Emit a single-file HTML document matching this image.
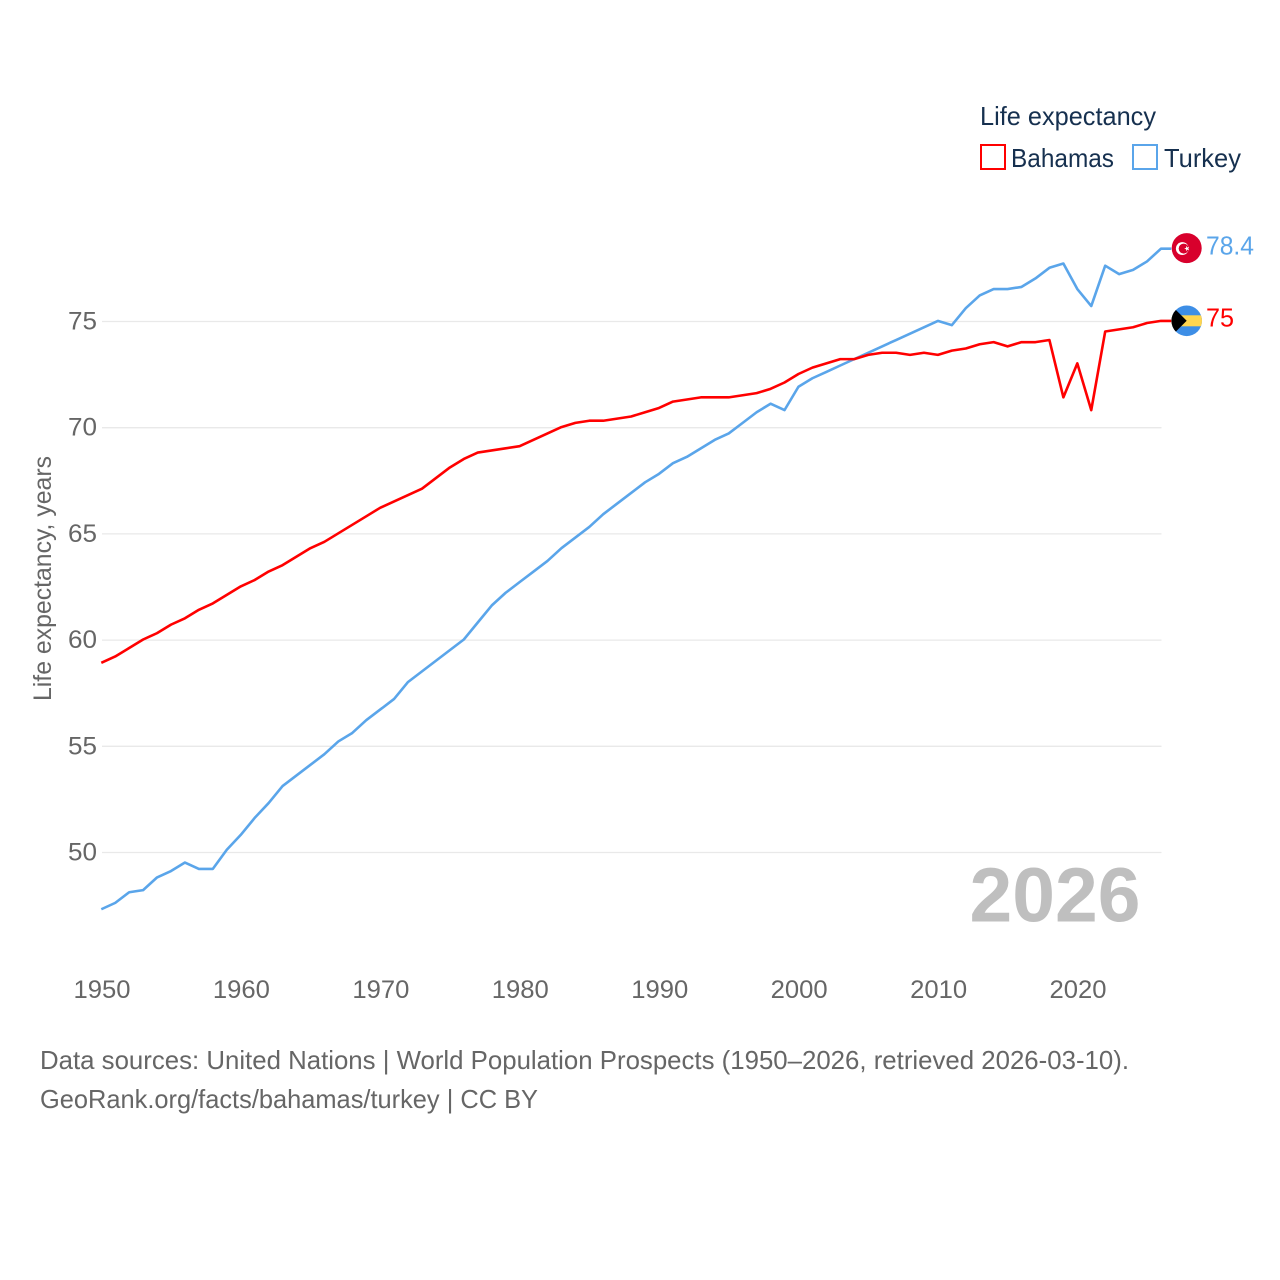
<!DOCTYPE html>
<html lang="en">
<head>
<meta charset="utf-8">
<title>Life expectancy: Bahamas vs Turkey</title>
<style>
html,body{margin:0;padding:0;background:#fff;}
svg{display:block;}
text{font-family:"Liberation Sans",sans-serif;}
</style>
</head>
<body>
<svg id="chart" width="1280" height="1280" viewBox="0 0 1280 1280" xmlns="http://www.w3.org/2000/svg">
  <defs>
    <clipPath id="flag-clip"><circle cx="0" cy="0" r="15.3"/></clipPath>
  </defs>
  <rect x="0" y="0" width="1280" height="1280" fill="#fff"/>
  <g id="grid"></g>
  <g id="yticks"></g>
  <g id="xticks"></g>
  <text transform="translate(51,701) rotate(-90)" font-size="25" fill="#666" textLength="245" lengthAdjust="spacingAndGlyphs">Life expectancy, years</text>
  <text x="969.5" y="921.5" font-size="77" font-weight="700" fill="#bfbfbf" textLength="171" lengthAdjust="spacingAndGlyphs">2026</text>
  <g id="series" transform="translate(-0.7,-0.6)"></g>

  <g>
    <text x="980" y="125" font-size="26" fill="#16304f" textLength="176" lengthAdjust="spacingAndGlyphs">Life expectancy</text>
    <rect x="981" y="145" width="24" height="24" fill="none" stroke="#ff0000" stroke-width="2"/>
    <text x="1011" y="167" font-size="26" fill="#16304f" textLength="103" lengthAdjust="spacingAndGlyphs">Bahamas</text>
    <rect x="1133" y="145" width="24" height="24" fill="none" stroke="#5aa5ea" stroke-width="2"/>
    <text x="1164" y="167" font-size="26" fill="#16304f" textLength="77" lengthAdjust="spacingAndGlyphs">Turkey</text>
  </g>

  <g id="flag-turkey" transform="translate(1186.7,248)">
    <circle cx="0" cy="0" r="15" fill="#d8002c"/>
    <circle cx="-4.4" cy="0.5" r="6.4" fill="#fff"/>
    <circle cx="-3" cy="0.5" r="5" fill="#d8002c"/>
    <polygon transform="translate(0.3,0.5)" points="-2.8,0 -0.89,-0.65 -0.87,-2.66 0.34,-1.05 2.27,-1.65 1.1,0 2.27,1.65 0.34,1.05 -0.87,2.66 -0.89,0.65" fill="#fff"/>
  </g>
  <g id="flag-bahamas" transform="translate(1186.7,320.8)">
    <g clip-path="url(#flag-clip)">
      <rect x="-16" y="-16" width="32" height="32" fill="#3d8ee6"/>
      <rect x="-16" y="-5.5" width="32" height="11" fill="#ffd54f"/>
      <polygon points="-15.5,-15.5 0,0 -15.5,15.5" fill="#000"/>
    </g>
  </g>
  <text id="value-turkey" x="1206" y="254" font-size="26" fill="#5aa5ea" textLength="48" lengthAdjust="spacingAndGlyphs">78.4</text>
  <text id="value-bahamas" x="1206" y="326.5" font-size="26" fill="#ff0000" textLength="28" lengthAdjust="spacingAndGlyphs">75</text>

  <text x="40" y="1069" font-size="26" fill="#666" textLength="1089" lengthAdjust="spacingAndGlyphs">Data sources: United Nations | World Population Prospects (1950–2026, retrieved 2026-03-10).</text>
  <text x="40" y="1108" font-size="26" fill="#666" textLength="498" lengthAdjust="spacingAndGlyphs">GeoRank.org/facts/bahamas/turkey | CC BY</text>
</svg>
<script>
const startYear = 1950;
const bahamas = [58.9,59.2,59.6,60.0,60.3,60.7,61.0,61.4,61.7,62.1,62.5,62.8,63.2,63.5,63.9,64.3,64.6,65.0,65.4,65.8,66.2,66.5,66.8,67.1,67.6,68.1,68.5,68.8,68.9,69.0,69.1,69.4,69.7,70.0,70.2,70.3,70.3,70.4,70.5,70.7,70.9,71.2,71.3,71.4,71.4,71.4,71.5,71.6,71.8,72.1,72.5,72.8,73.0,73.2,73.2,73.4,73.5,73.5,73.4,73.5,73.4,73.6,73.7,73.9,74.0,73.8,74.0,74.0,74.1,71.4,73.0,70.8,74.5,74.6,74.7,74.9,75.0];
const turkey = [47.3,47.6,48.1,48.2,48.8,49.1,49.5,49.2,49.2,50.1,50.8,51.6,52.3,53.1,53.6,54.1,54.6,55.2,55.6,56.2,56.7,57.2,58.0,58.5,59.0,59.5,60.0,60.8,61.6,62.2,62.7,63.2,63.7,64.3,64.8,65.3,65.9,66.4,66.9,67.4,67.8,68.3,68.6,69.0,69.4,69.7,70.2,70.7,71.1,70.8,71.9,72.3,72.6,72.9,73.2,73.5,73.8,74.1,74.4,74.7,75.0,74.8,75.6,76.2,76.5,76.5,76.6,77.0,77.5,77.7,76.5,75.7,77.6,77.2,77.4,77.8,78.4];
const yTicks = [50,55,60,65,70,75];
const xTicks = [1950,1960,1970,1980,1990,2000,2010,2020];

const NS = 'http://www.w3.org/2000/svg';
const xScale = function (year) { return 102 + (year - 1950) * 13.943; };
const yScale = function (value) { return 321.5 + (75 - value) * 21.24; };
const gridGroup = document.getElementById('grid');
const yGroup = document.getElementById('yticks');
const xGroup = document.getElementById('xticks');
const seriesGroup = document.getElementById('series');

yTicks.forEach(function (tick) {
  const line = document.createElementNS(NS, 'line');
  
  
  line.setAttribute('x1', 102);
  line.setAttribute('x2', 1161.5);
  line.setAttribute('y1', yScale(tick));
  line.setAttribute('y2', yScale(tick));
  line.setAttribute('stroke', '#e9e9e9');
  line.setAttribute('stroke-width', '1.3');
  gridGroup.appendChild(line);

  const label = document.createElementNS(NS, 'text');
  
  
  label.setAttribute('x', 68);
  label.setAttribute('y', yScale(tick) + 8);
  label.setAttribute('font-size', '25');
  label.setAttribute('fill', '#666');
  label.setAttribute('textLength', '29');
  label.setAttribute('lengthAdjust', 'spacingAndGlyphs');
  label.textContent = tick;
  yGroup.appendChild(label);
});

xTicks.forEach(function (tick) {
  const label = document.createElementNS(NS, 'text');
  
  
  label.setAttribute('x', xScale(tick) - 28.5);
  label.setAttribute('y', 998);
  label.setAttribute('font-size', '25');
  label.setAttribute('fill', '#666');
  label.setAttribute('textLength', '57');
  label.setAttribute('lengthAdjust', 'spacingAndGlyphs');
  label.textContent = tick;
  xGroup.appendChild(label);
});

function linePath(values) {
  return values.map(function (v, i) {
    return (i ? 'L' : 'M') + xScale(startYear + i).toFixed(2) + ' ' + yScale(v).toFixed(2);
  }).join(' ');
}

function drawSeries(values, color, name) {
  const path = document.createElementNS(NS, 'path');
  
  
  const last = values[values.length - 1];
  path.setAttribute('d', linePath(values) + ' L1172 ' + yScale(last).toFixed(2));
  path.setAttribute('fill', 'none');
  path.setAttribute('stroke', color);
  path.setAttribute('stroke-width', '2.6');
  path.setAttribute('stroke-linejoin', 'round');
  seriesGroup.appendChild(path);
}
drawSeries(turkey, '#5aa5ea', 'turkey-line');
drawSeries(bahamas, '#ff0000', 'bahamas-line');

const turkeyLast = turkey[turkey.length - 1];
const bahamasLast = bahamas[bahamas.length - 1];
document.getElementById('flag-turkey').setAttribute('transform', 'translate(1186.7,' + (yScale(turkeyLast) - 1.2) + ')');
document.getElementById('flag-bahamas').setAttribute('transform', 'translate(1186.7,' + (yScale(bahamasLast) - 0.7) + ')');
document.getElementById('value-turkey').textContent = turkeyLast;
document.getElementById('value-turkey').setAttribute('y', yScale(turkeyLast) + 5);
document.getElementById('value-bahamas').textContent = bahamasLast;
document.getElementById('value-bahamas').setAttribute('y', yScale(bahamasLast) + 5);
</script>
</body>
</html>
